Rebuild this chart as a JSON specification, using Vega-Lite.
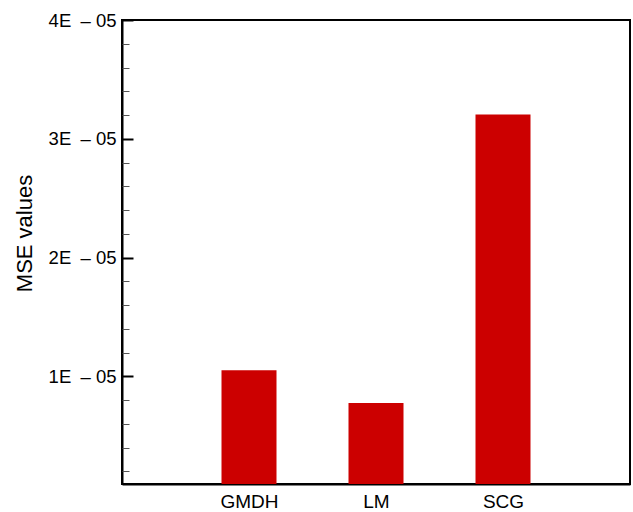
{
  "$schema": "https://vega.github.io/schema/vega-lite/v6.json",
  "width": 508,
  "height": 464,
  "autosize": "none",
  "padding": {"left": 122, "top": 20, "right": 3, "bottom": 28},
  "background": "white",
  "config": {
    "font": "Liberation Sans",
    "view": {"stroke": "black", "strokeWidth": 2},
    "axis": {"grid": false, "domainColor": "black", "domainWidth": 2, "tickColor": "black", "labelColor": "black", "titleColor": "black", "labelFont": "Liberation Sans", "titleFont": "Liberation Sans", "labelFontWeight": "normal", "titleFontWeight": "normal"}
  },
  "data": {
    "values": [
      {"model": "GMDH", "mse": 1.05e-5},
      {"model": "LM", "mse": 0.775e-5},
      {"model": "SCG", "mse": 3.205e-5}
    ]
  },
  "encoding": {
    "x": {
      "field": "model", "type": "nominal",
      "scale": {"type": "point", "domain": [" ", "GMDH", "LM", "SCG", "  "], "padding": 0},
      "axis": {"title": null, "ticks": false, "labelAngle": 0, "labelFontSize": 19, "labelPadding": 8, "domainWidth": 2, "labelOverlap": false}
    }
  },
  "layer": [
    {
      "mark": {"type": "bar", "size": 55, "color": "#CC0000", "clip": true},
      "encoding": {
        "y": {
          "field": "mse", "type": "quantitative",
          "scale": {"domain": [0.093e-5, 4e-5], "nice": false, "zero": false},
          "axis": {
            "title": "MSE values", "titleFontSize": 22, "titlePadding": 12, "titleY": 213,
            "values": [1e-5, 2e-5, 3e-5, 4e-5],
            "labelExpr": "format(round(datum.value*1e5),'d') + 'E\u2002– 05'",
            "labelFontSize": 18.5, "tickSize": -11, "tickWidth": 2, "labelPadding": 17,
            "labelBaseline": "middle"
          }
        }
      }
    },
    {
      "mark": {"type": "bar", "opacity": 0, "clip": true},
      "encoding": {
        "y": {
          "field": "mse", "type": "quantitative",
          "scale": {"domain": [0.093e-5, 4e-5], "nice": false, "zero": false},
          "axis": {
            "orient": "left", "title": null, "labels": false, "domain": false,
            "values": [0.2e-5, 0.4e-5, 0.6e-5, 0.8e-5, 1.2e-5, 1.4e-5, 1.6e-5, 1.8e-5, 2.2e-5, 2.4e-5, 2.6e-5, 2.8e-5, 3.2e-5, 3.4e-5, 3.6e-5, 3.8e-5],
            "tickSize": -7, "tickWidth": 1, "tickColor": "#555555"
          }
        }
      }
    }
  ],
  "resolve": {"axis": {"y": "independent"}}
}
